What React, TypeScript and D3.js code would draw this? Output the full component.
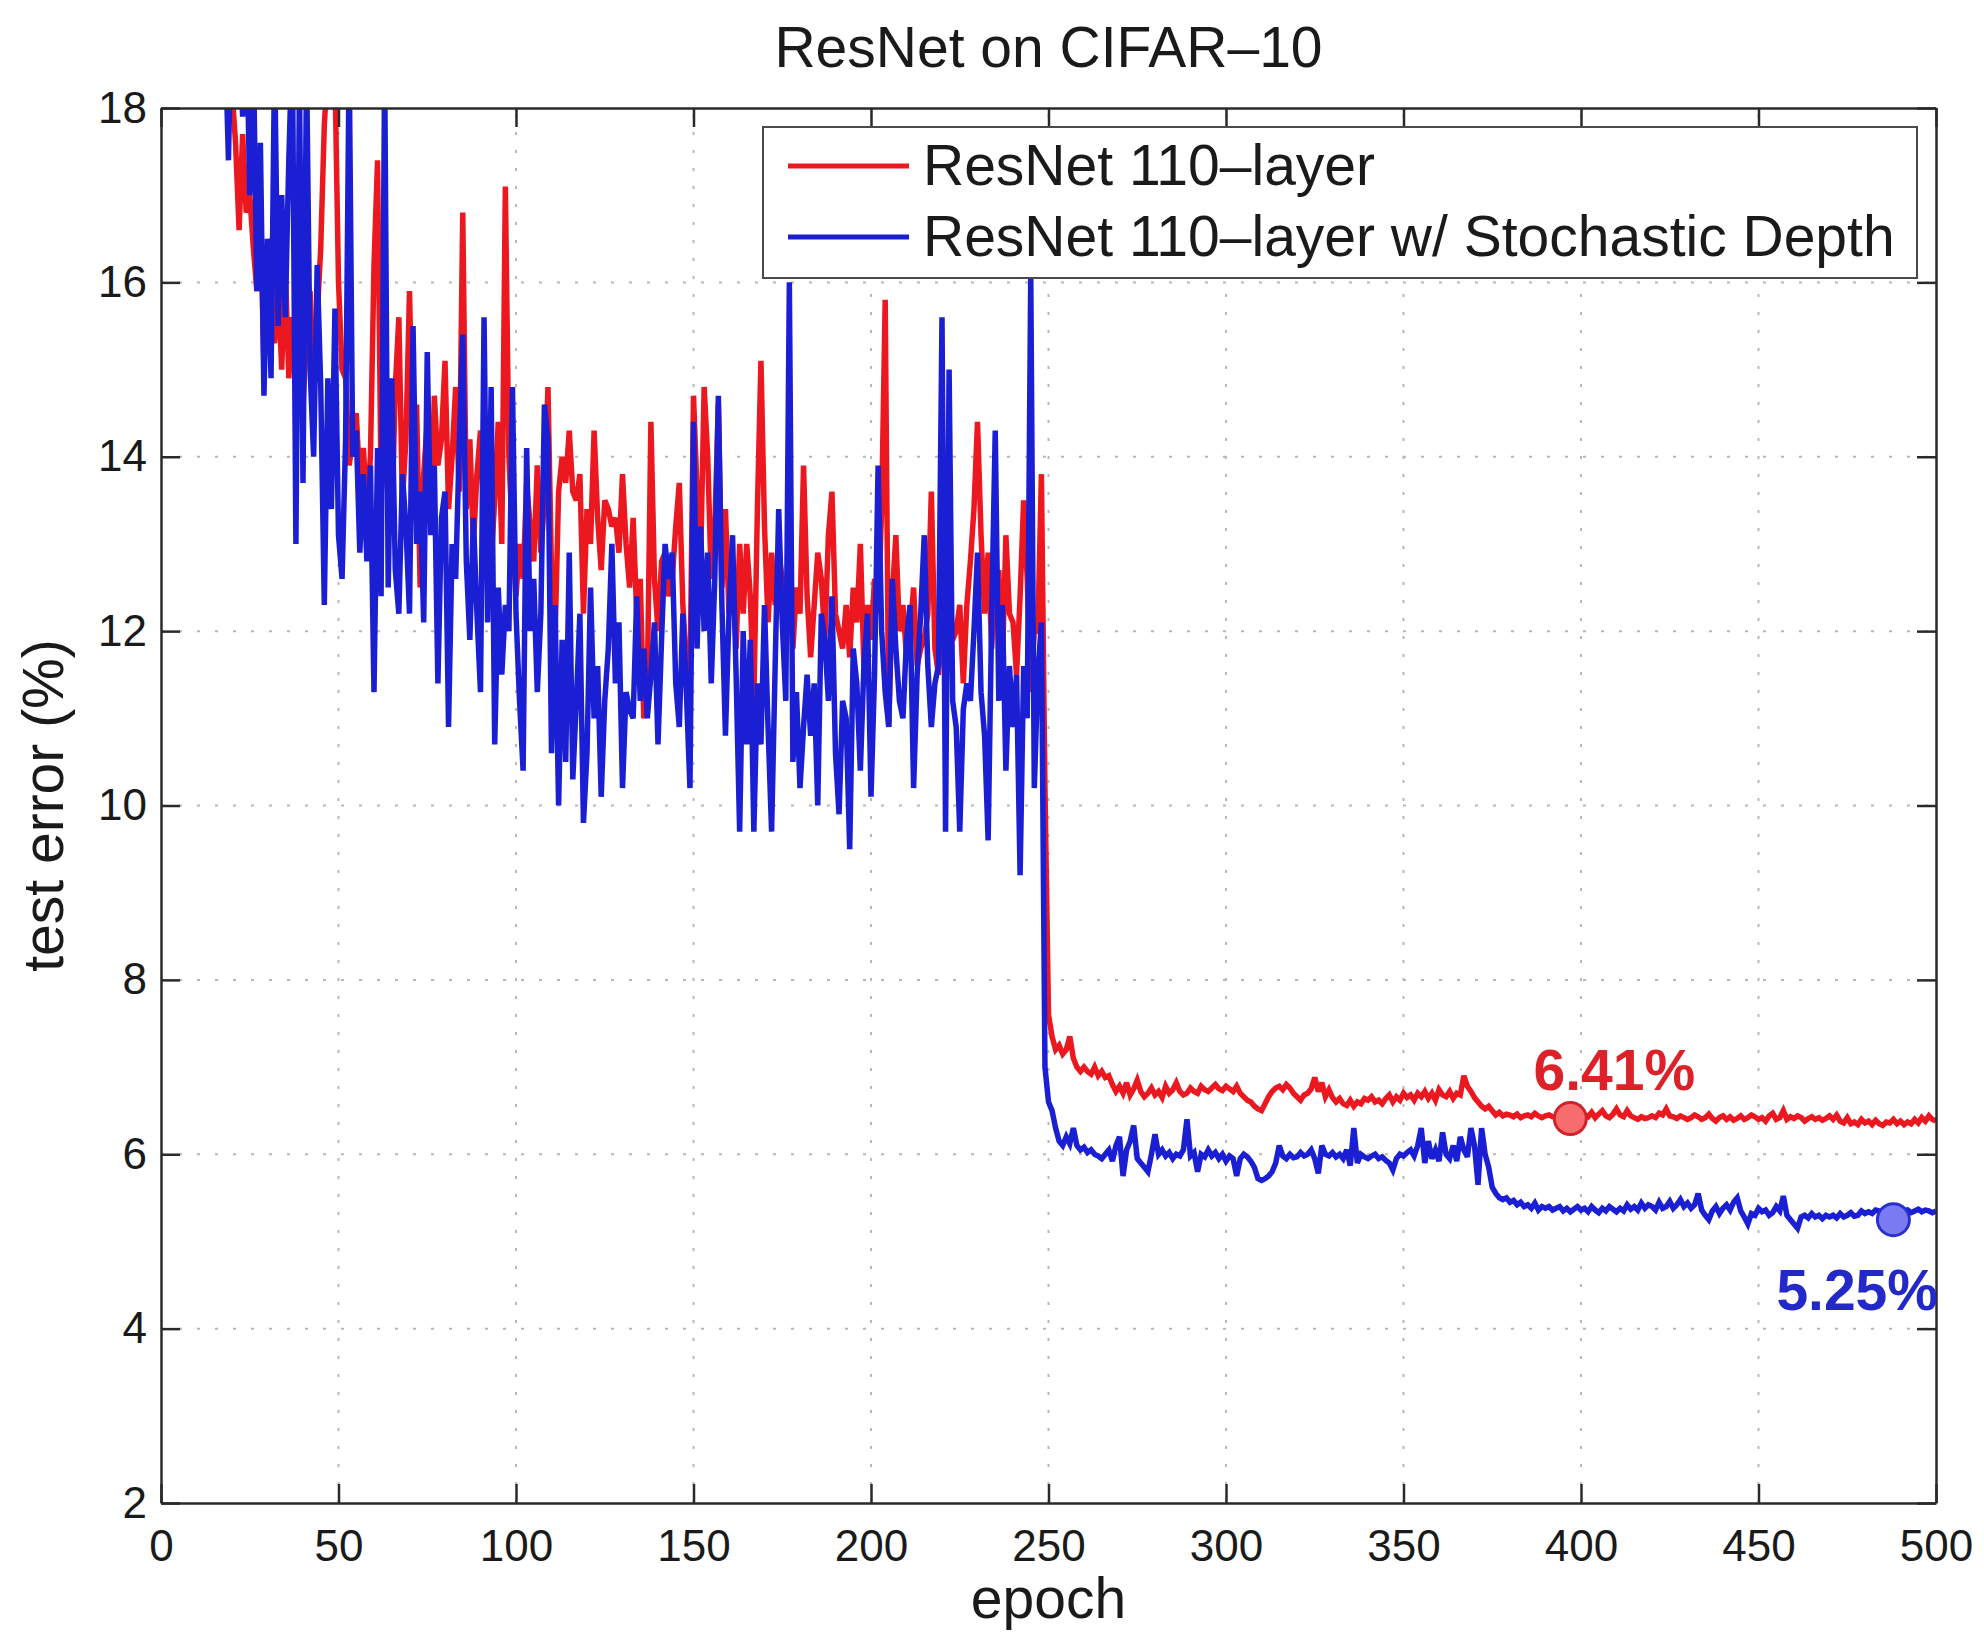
import React, { useEffect, useRef } from "react";
import * as d3 from "d3";

// test error (%) per epoch, epochs 1..500
const resnetError: number[] = [
  45, 38, 33, 30, 28, 26, 25, 24, 23, 22,
  21.5, 21, 20.5, 20, 19.8, 19.5, 19.2, 19, 18.6, 18.2,
  17.6, 16.6, 17.7, 16.8, 17.0, 16.4, 15.9, 16.8, 15.0, 16.0,
  16.5, 15.3, 16.0, 15.0, 16.2, 14.9, 15.6, 15.1, 15.8, 14.6,
  15.4, 15.9, 14.8, 15.6, 16.4, 17.8, 18.5, 19.0, 18.4, 16.0,
  15.0, 14.9, 13.9, 14.2, 14.5, 13.7, 14.1, 13.4, 14.0, 16.2,
  17.4, 13.6, 13.9, 14.3, 13.2, 14.8, 15.6, 13.5, 14.2, 15.9,
  14.0, 14.6, 12.5, 13.8, 14.4, 13.2, 14.7, 13.9, 14.2, 15.1,
  13.4, 14.0, 14.8, 13.6, 16.8, 13.4, 14.2, 13.0, 13.8, 14.3,
  13.2, 14.0, 12.8, 13.5, 14.4, 13.0, 17.1, 14.0, 13.1, 12.4,
  13.0, 12.6, 13.7, 13.2, 12.8, 13.9, 12.9, 13.5, 14.8, 12.7,
  11.9, 13.6, 14.0, 13.7, 14.3, 13.6, 13.5, 13.8, 12.2, 13.4,
  13.0, 14.3, 13.3, 12.7, 13.5, 13.4, 13.2, 13.3, 12.9, 13.8,
  13.0, 12.5, 13.3, 12.2, 12.6, 11.0, 11.4, 14.4, 12.6, 12.0,
  12.8, 12.9, 12.4, 12.6, 13.2, 13.7, 12.3, 11.6, 11.4, 14.7,
  13.6, 12.8, 14.8, 14.0, 12.6, 13.2, 14.6, 12.5, 13.4, 12.2,
  12.8, 11.8, 13.0, 12.2, 13.0, 12.4, 11.2, 13.4, 15.1, 13.2,
  12.1, 12.9, 12.3, 12.9, 12.6, 12.0, 12.7, 11.8, 12.5, 12.2,
  13.9, 12.4, 11.7, 12.3, 12.9, 12.6, 11.9, 13.1, 13.6, 12.2,
  12.0, 11.8, 12.3, 11.7, 12.5, 12.1, 13.0, 11.6, 12.3, 11.9,
  12.6, 12.2, 13.4, 15.8, 10.9, 12.4, 13.1, 12.0, 12.3, 11.7,
  12.0, 12.5, 11.6, 11.8, 11.9, 12.2, 13.6, 11.8, 11.5, 12.2,
  11.7, 12.6, 11.9, 12.0, 12.3, 11.4, 12.3, 12.8, 13.4, 14.4,
  13.1, 12.2, 12.9, 11.8, 12.6, 12.7, 11.6, 13.1, 12.2, 12.1,
  11.5, 12.4, 13.5, 12.6, 11.3, 12.0, 12.0, 13.8, 10.2, 7.6,
  7.35, 7.2, 7.25, 7.15, 7.2, 7.35, 7.1, 7.0, 6.95, 7.0,
  6.95, 6.92, 7.0, 6.9, 6.95, 6.88, 6.9, 6.8, 6.72, 6.78,
  6.7, 6.82, 6.68, 6.75, 6.85, 6.72, 6.66, 6.7, 6.76, 6.68,
  6.72, 6.65, 6.78, 6.7, 6.74, 6.82, 6.72, 6.68, 6.7, 6.76,
  6.72, 6.7, 6.78, 6.74, 6.72, 6.76, 6.8, 6.75, 6.73, 6.78,
  6.75, 6.72, 6.78, 6.7, 6.66, 6.62, 6.6, 6.55, 6.52, 6.5,
  6.58, 6.66, 6.72, 6.76, 6.78, 6.74, 6.8, 6.76, 6.7, 6.66,
  6.62, 6.68, 6.7, 6.75, 6.88, 6.72, 6.82, 6.66, 6.74, 6.65,
  6.6, 6.64, 6.58, 6.56, 6.62, 6.55, 6.6, 6.58, 6.64, 6.62,
  6.66, 6.6, 6.62, 6.58, 6.64, 6.68, 6.6, 6.66, 6.62, 6.7,
  6.65, 6.68, 6.62, 6.7, 6.66, 6.72, 6.64, 6.7, 6.62, 6.74,
  6.68, 6.66, 6.72, 6.64, 6.7, 6.68, 6.9, 6.78, 6.72, 6.65,
  6.6, 6.55, 6.52, 6.55, 6.5, 6.45, 6.48, 6.44, 6.46, 6.45,
  6.43, 6.46, 6.42, 6.44, 6.45, 6.43, 6.47, 6.44, 6.42, 6.44,
  6.45, 6.43, 6.42, 6.44, 6.43, 6.42, 6.41, 6.43, 6.44, 6.42,
  6.45, 6.43, 6.48, 6.42, 6.46, 6.5, 6.44, 6.42, 6.46, 6.52,
  6.45, 6.43, 6.5, 6.44, 6.42, 6.4, 6.43, 6.41, 6.42, 6.44,
  6.42, 6.47, 6.45, 6.52, 6.44, 6.43, 6.41, 6.44, 6.42, 6.4,
  6.42, 6.45, 6.43, 6.4, 6.42, 6.46, 6.41, 6.38, 6.42, 6.44,
  6.4, 6.43, 6.39, 6.41, 6.44, 6.4, 6.42, 6.45, 6.43, 6.4,
  6.42, 6.38, 6.44, 6.47, 6.4, 6.42, 6.5, 6.4, 6.43, 6.41,
  6.44, 6.42, 6.38, 6.41, 6.43, 6.4, 6.42, 6.39, 6.41, 6.44,
  6.4, 6.45, 6.38, 6.36, 6.42, 6.35, 6.37, 6.34, 6.4, 6.36,
  6.38, 6.34, 6.39, 6.35, 6.33, 6.37, 6.36, 6.4, 6.35, 6.38,
  6.34, 6.37, 6.35, 6.4, 6.36, 6.42, 6.38, 6.44, 6.4, 6.38,
];

const stochasticError: number[] = [
  50, 42, 36, 32, 29, 27, 25.5, 24, 23, 22,
  21.5, 21, 20.6, 20.2, 19.8, 19.5, 19.2, 18.9, 17.4, 19.5,
  18.6, 18.9, 17.9, 19.2, 17.0, 18.7, 15.9, 17.6, 14.7, 16.5,
  14.9, 18.6, 15.5, 17.0, 15.6, 17.4, 18.8, 13.0, 18.3, 13.7,
  18.5, 15.0, 14.0, 16.2, 14.8, 12.3, 14.9, 13.4, 15.7, 13.1,
  12.6, 14.2, 18.6, 14.0, 14.3, 12.9, 13.8, 12.8, 13.9, 11.3,
  14.1, 12.4, 18.5, 12.5, 14.9, 12.7, 12.2, 13.8, 13.2, 12.2,
  15.5, 13.0, 13.6, 12.1, 15.2, 13.1, 13.9, 11.4, 13.3, 13.6,
  10.9, 13.0, 12.6, 14.1, 15.4, 12.8, 11.9, 13.3, 12.2, 11.3,
  15.6, 12.1, 14.8, 10.7, 12.5, 11.5, 12.3, 12.0, 14.8, 12.2,
  11.2, 10.4, 14.1, 12.0, 12.6, 11.3, 12.2, 14.6, 14.2, 10.6,
  12.3, 10.0, 11.9, 10.5, 12.9, 10.3, 11.2, 12.2, 9.8, 10.6,
  12.5, 11.0, 11.6, 10.1, 11.2, 11.8, 13.0, 11.4, 12.1, 10.2,
  11.3, 11.1, 11.0, 12.4, 11.2, 11.8, 11.0, 11.5, 12.1, 10.7,
  11.9, 13.0, 12.6, 12.9, 11.4, 10.9, 12.2, 11.3, 10.2, 14.4,
  11.8, 13.2, 12.0, 12.9, 11.4, 12.6, 14.7, 12.3, 10.8, 12.2,
  13.1, 11.5, 9.7, 12.0, 10.7, 11.9, 9.7, 11.4, 10.7, 12.3,
  10.9, 9.7, 11.6, 13.4, 12.1, 11.2, 16.0, 10.5, 11.3, 10.2,
  10.9, 11.5, 10.8, 11.4, 10.0, 12.2, 11.9, 11.2, 12.4, 10.6,
  9.9, 11.2, 11.0, 9.5, 11.8, 11.4, 10.4, 11.6, 12.2, 10.1,
  11.5, 13.9, 12.0, 11.3, 10.9, 12.6, 11.8, 11.2, 11.0, 11.9,
  12.3, 10.2, 11.5, 12.2, 13.1, 11.6, 10.9, 11.4, 11.6, 15.6,
  9.7, 15.0, 11.2, 10.9, 9.7, 11.1, 11.4, 11.2, 12.0, 12.9,
  11.3, 10.8, 9.6, 12.2, 14.3, 11.2, 12.3, 10.4, 11.6, 10.9,
  11.5, 9.2, 11.6, 11.0, 16.1, 10.2, 11.5, 12.1, 7.0, 6.6,
  6.5, 6.3, 6.15, 6.1, 6.2, 6.12, 6.3, 6.1, 6.05, 6.08,
  6.02, 6.05, 6.0, 5.98, 5.95, 6.0, 6.05, 5.92, 6.1, 6.2,
  5.75, 6.05, 6.15, 6.33, 5.95, 5.9, 5.85, 5.8, 6.0, 6.23,
  6.0, 6.05, 5.98, 6.02, 5.95, 6.0, 5.98, 6.05, 6.4, 5.98,
  6.02, 5.8, 6.0, 5.97, 6.05, 5.98, 6.02, 5.95, 6.0, 5.92,
  5.98, 5.95, 5.75, 5.95, 6.0, 5.97, 5.92, 5.85, 5.72, 5.7,
  5.72, 5.75, 5.8, 5.9, 6.1, 5.98, 5.95, 6.0, 5.96, 5.97,
  6.02, 5.98, 6.0, 6.05, 5.95, 5.78, 6.1, 6.0, 5.98, 6.02,
  5.97, 6.0, 5.95, 6.05, 5.87, 6.3, 5.9, 6.0, 5.97, 5.95,
  5.98, 6.0, 5.95, 5.97, 5.93, 5.9, 5.82, 5.95, 6.0, 5.98,
  6.02, 6.05, 5.98, 6.1, 6.3, 5.9, 6.15, 5.95, 6.05, 5.92,
  6.25, 6.0, 5.95, 6.1, 5.92, 6.2, 6.05, 5.97, 6.3, 6.1,
  5.65, 6.3, 6.0, 5.85, 5.62, 5.55, 5.5, 5.48, 5.5, 5.45,
  5.47, 5.42, 5.45, 5.4, 5.42, 5.38, 5.44, 5.36, 5.4, 5.38,
  5.4, 5.36, 5.38, 5.4, 5.35, 5.38, 5.34, 5.37, 5.4, 5.36,
  5.38, 5.34, 5.4, 5.36, 5.33, 5.38, 5.35, 5.4, 5.37, 5.34,
  5.38, 5.35, 5.42, 5.37, 5.4, 5.36, 5.44, 5.38, 5.42, 5.4,
  5.36, 5.45, 5.38, 5.4, 5.46, 5.38, 5.42, 5.48, 5.4, 5.44,
  5.38, 5.42, 5.55, 5.36, 5.3, 5.25, 5.35, 5.4, 5.32, 5.38,
  5.42, 5.36, 5.45, 5.5, 5.35, 5.28, 5.2, 5.32, 5.3, 5.38,
  5.34, 5.36, 5.3, 5.33, 5.4, 5.35, 5.52, 5.3, 5.25, 5.2,
  5.15, 5.28, 5.3, 5.27, 5.32, 5.28, 5.3, 5.26, 5.3, 5.28,
  5.3, 5.27, 5.32, 5.28, 5.3, 5.33, 5.29, 5.3, 5.35, 5.32,
  5.34, 5.32, 5.36, 5.35, 5.34, 5.38, 5.35, 5.33, 5.36, 5.35,
  5.34, 5.36, 5.33, 5.35, 5.37, 5.34, 5.36, 5.35, 5.33, 5.35,
];

const xTicks = [0, 50, 100, 150, 200, 250, 300, 350, 400, 450, 500];
const yTicks = [2, 4, 6, 8, 10, 12, 14, 16, 18];

const seriesNames = ["ResNet 110\u2013layer", "ResNet 110\u2013layer w/ Stochastic Depth"];
const seriesColors = ["#ec1820", "#1a1fd4"];

// highlighted final errors
const markerEpochs = [397, 488];
const markerValues = [6.41, 5.25];
const markerLabels = ["6.41%", "5.25%"];

const W = 1984;
const H = 1634;
const M = { left: 161, right: 1936, top: 108, bottom: 1503 };
const FONT = "'Liberation Sans', Arial, Helvetica, sans-serif";
const LABEL_SIZE = "57px";

const App: React.FC = () => {
  const svgRef = useRef<SVGSVGElement>(null);

  useEffect(() => {
    if (!svgRef.current) return;
    const svg = d3.select(svgRef.current);
    svg.selectAll("*").remove();

    const x = d3.scaleLinear().domain([0, 500]).range([M.left, M.right]);
    const y = d3.scaleLinear().domain([2, 18]).range([M.bottom, M.top]);

    svg.append("rect").attr("width", W).attr("height", H).attr("fill", "white");

    svg
      .append("defs")
      .append("clipPath")
      .attr("id", "plot-clip")
      .append("rect")
      .attr("x", M.left)
      .attr("y", M.top)
      .attr("width", M.right - M.left)
      .attr("height", M.bottom - M.top);

    // dotted grid
    const grid = svg.append("g").attr("stroke", "#b8b8b8").attr("stroke-width", 2).attr("stroke-dasharray", "3 15");
    grid
      .selectAll("line.gx")
      .data(xTicks.slice(1, -1))
      .enter()
      .append("line")
      .attr("x1", (d) => x(d))
      .attr("x2", (d) => x(d))
      .attr("y1", M.bottom)
      .attr("y2", M.top);
    grid
      .selectAll("line.gy")
      .data(yTicks.slice(1, -1))
      .enter()
      .append("line")
      .attr("x1", M.left)
      .attr("x2", M.right)
      .attr("y1", (d) => y(d))
      .attr("y2", (d) => y(d));

    // curves
    const line = d3
      .line<number>()
      .x((_, i) => x(i + 1))
      .y((d) => y(d));

    const curves = svg.append("g").attr("clip-path", "url(#plot-clip)");
    [resnetError, stochasticError].forEach((series, i) => {
      curves
        .append("path")
        .attr("d", line(series))
        .attr("fill", "none")
        .attr("stroke", seriesColors[i])
        .attr("stroke-width", 5.5)
        .attr("stroke-linejoin", "miter")
        .attr("stroke-miterlimit", 3);
    });

    // axes (MATLAB style box, ticks inside)
    const styleAxis = (g: d3.Selection<SVGGElement, unknown, null, undefined>) => {
      g.select(".domain").attr("stroke", "#2a2a2a").attr("stroke-width", 2.5);
      g.selectAll(".tick line").attr("stroke", "#2a2a2a").attr("stroke-width", 2.5);
      g.selectAll(".tick text")
        .attr("fill", "#1a1a1a")
        .style("font-family", FONT)
        .style("font-size", "44px");
    };

    svg
      .append("g")
      .attr("transform", `translate(0,${M.bottom})`)
      .call(d3.axisBottom(x).tickValues(xTicks).tickSizeInner(-19).tickSizeOuter(0).tickPadding(27))
      .call(styleAxis);
    svg
      .append("g")
      .attr("transform", `translate(0,${M.top})`)
      .call(d3.axisTop(x).tickValues(xTicks).tickSizeInner(-19).tickSizeOuter(0).tickFormat(() => ""))
      .call(styleAxis);
    svg
      .append("g")
      .attr("transform", `translate(${M.left},0)`)
      .call(d3.axisLeft(y).tickValues(yTicks).tickSizeInner(-19).tickSizeOuter(0).tickPadding(14))
      .call(styleAxis);
    svg
      .append("g")
      .attr("transform", `translate(${M.right},0)`)
      .call(d3.axisRight(y).tickValues(yTicks).tickSizeInner(-19).tickSizeOuter(0).tickFormat(() => ""))
      .call(styleAxis);

    // markers and labels
    markerEpochs.forEach((ep, i) => {
      svg
        .append("circle")
        .attr("cx", x(ep))
        .attr("cy", y(markerValues[i]))
        .attr("r", 16)
        .attr("fill", i === 0 ? "#f76d6d" : "#7a7af2")
        .attr("stroke", i === 0 ? "#d4222a" : "#2a30cf")
        .attr("stroke-width", 3);
    });
    svg
      .append("text")
      .attr("x", x(markerEpochs[0]) + 44)
      .attr("y", y(markerValues[0]) - 29)
      .attr("text-anchor", "middle")
      .attr("fill", "#dc2228")
      .style("font-family", FONT)
      .style("font-weight", "bold")
      .style("font-size", LABEL_SIZE)
      .text(markerLabels[0]);
    svg
      .append("text")
      .attr("x", x(500) + 2)
      .attr("y", y(markerValues[1]) + 90)
      .attr("text-anchor", "end")
      .attr("fill", "#2328c8")
      .style("font-family", FONT)
      .style("font-weight", "bold")
      .style("font-size", LABEL_SIZE)
      .text(markerLabels[1]);

    // legend
    const legend = svg.append("g");
    legend
      .append("rect")
      .attr("x", 763)
      .attr("y", 127)
      .attr("width", 1154)
      .attr("height", 151)
      .attr("fill", "white")
      .attr("stroke", "#4a4a4a")
      .attr("stroke-width", 2);
    seriesNames.forEach((name, i) => {
      const ly = 166 + i * 71;
      legend
        .append("line")
        .attr("x1", 788)
        .attr("x2", 909)
        .attr("y1", ly)
        .attr("y2", ly)
        .attr("stroke", seriesColors[i])
        .attr("stroke-width", 5);
      legend
        .append("text")
        .attr("x", 923)
        .attr("y", ly + 19)
        .attr("fill", "#1a1a1a")
        .style("font-family", FONT)
        .style("font-size", LABEL_SIZE)
        .text(name);
    });

    // titles
    svg
      .append("text")
      .attr("x", (M.left + M.right) / 2)
      .attr("y", 67)
      .attr("text-anchor", "middle")
      .attr("fill", "#1a1a1a")
      .style("font-family", FONT)
      .style("font-size", LABEL_SIZE)
      .text("ResNet on CIFAR\u201310");
    svg
      .append("text")
      .attr("x", (M.left + M.right) / 2)
      .attr("y", 1618)
      .attr("text-anchor", "middle")
      .attr("fill", "#1a1a1a")
      .style("font-family", FONT)
      .style("font-size", LABEL_SIZE)
      .text("epoch");
    svg
      .append("text")
      .attr("transform", `translate(63,${(M.top + M.bottom) / 2}) rotate(-90)`)
      .attr("text-anchor", "middle")
      .attr("fill", "#1a1a1a")
      .style("font-family", FONT)
      .style("font-size", LABEL_SIZE)
      .text("test error (%)");
  }, []);

  return (
    <svg
      ref={svgRef}
      width={W}
      height={H}
      viewBox={`0 0 ${W} ${H}`}
      style={{ position: "absolute", left: 0, top: 0, display: "block" }}
    />
  );
};

export default App;
